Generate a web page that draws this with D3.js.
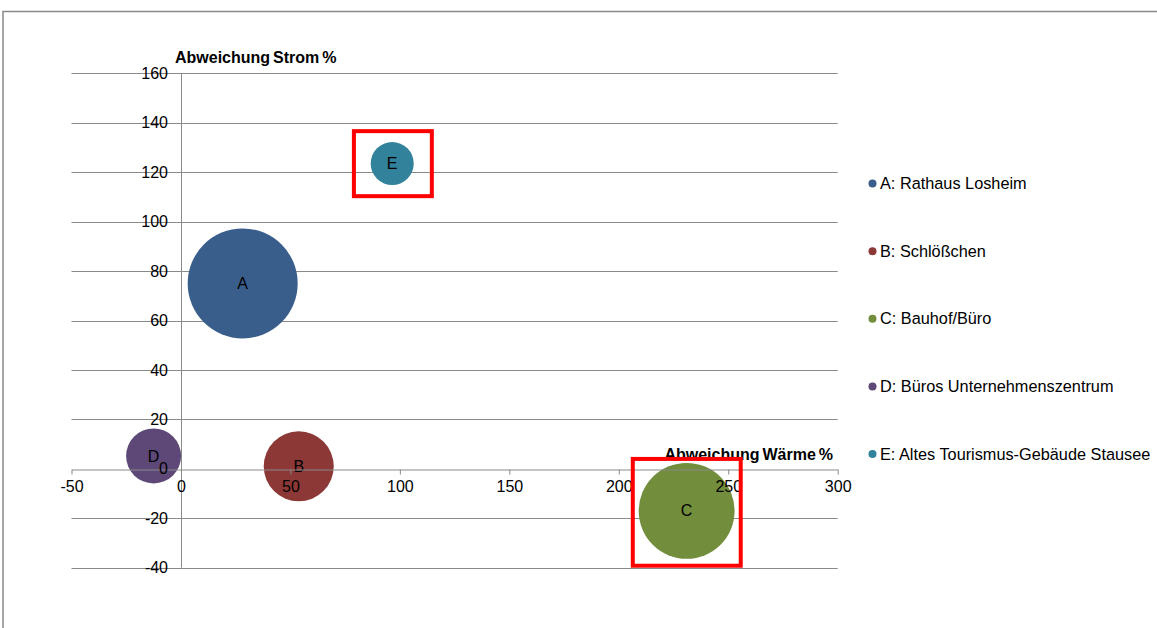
<!DOCTYPE html>
<html>
<head>
<meta charset="utf-8">
<script src="https://cdn.jsdelivr.net/npm/d3@7"></script>
<style>
  html, body { margin: 0; padding: 0; background: #fff; }
  svg { display: block; font-family: "Liberation Sans", Arial, sans-serif; }
</style>
</head>
<body>
<svg id="chart" width="1157" height="628"></svg>
<script>
// Buildings: deviation of heat (x) and electricity (y) in percent, bubble size = consumption weight
const labels = ["A", "B", "C", "D", "E"];
const names = ["A: Rathaus Losheim", "B: Schlößchen", "C: Bauhof/Büro", "D: Büros Unternehmenszentrum", "E: Altes Tourismus-Gebäude Stausee"];
const waerme = [28.2, 53.8, 231, -12.5, 96.5];
const strom = [75, 1, -17, 5.2, 123.5];
const groesse = [100, 40.5, 76, 25, 15.3];
const colors = ["#3A5E8C", "#8C3836", "#728D3B", "#5D4878", "#31829A"];
const xTicks = [-50, 0, 50, 100, 150, 200, 250, 300];
const yTicks = [-40, -20, 0, 20, 40, 60, 80, 100, 120, 140, 160];
// highlighted bubbles: [index, x0, x1, y0, y1] in data units
const highlights = [[4, 79, 114.6, 136.6, 110.3], [2, 206.4, 255.7, 4, -39.2]];

const svg = d3.select("#chart");

// outer chart frame
svg.append("rect").attr("x", 3).attr("y", 11.5).attr("width", 1200).attr("height", 700)
  .attr("fill", "none").attr("stroke", "#898989").attr("stroke-width", 1.5);

const x = d3.scaleLinear().domain([-50, 300]).range([71.5, 837.7]);
const y = d3.scaleLinear().domain([-40, 160]).range([567.7, 73.3]);
const r = d3.scaleSqrt().domain([0, 100]).range([0, 55]);

const grid = "#8a8a8a";
const fontSize = 16;

// horizontal gridlines
svg.append("g").selectAll("line").data(yTicks.filter(v => v !== 0)).join("line")
  .attr("x1", x(-50)).attr("x2", x(300))
  .attr("y1", d => Math.round(y(d)) + 0.5).attr("y2", d => Math.round(y(d)) + 0.5)
  .attr("stroke", grid).attr("stroke-width", 1);

// vertical axis line at x = 0
svg.append("line").attr("x1", Math.round(x(0)) + 0.5).attr("x2", Math.round(x(0)) + 0.5)
  .attr("y1", y(160)).attr("y2", y(-40)).attr("stroke", grid);

// horizontal axis at y = 0
const xAxis = d3.axisBottom(x).tickValues(xTicks).tickFormat(d => String(d))
  .tickSize(5).tickSizeOuter(0).tickPadding(6);
const gx = svg.append("g").attr("transform", `translate(0,${Math.round(y(0)) + 0.5})`).call(xAxis);
gx.select(".domain").attr("stroke", grid);
gx.selectAll(".tick line").attr("stroke", grid);
gx.selectAll(".tick text").attr("font-size", fontSize).attr("fill", "#000")
  .attr("font-family", "Liberation Sans, Arial, sans-serif");

// bubbles
const idx = d3.range(labels.length);
svg.append("g").selectAll("circle").data(idx).join("circle")
  .attr("cx", i => x(waerme[i])).attr("cy", i => y(strom[i])).attr("r", i => r(groesse[i]))
  .attr("fill", i => colors[i]);

// bubble labels
svg.append("g").selectAll("text").data(idx).join("text")
  .attr("x", i => x(waerme[i])).attr("y", i => y(strom[i]))
  .attr("text-anchor", "middle").attr("dy", "0.35em")
  .attr("font-size", fontSize).attr("fill", "#000").text(i => labels[i]);

// x tick labels sit on top of the bubbles
gx.raise();

// vertical axis tick labels
svg.append("g").selectAll("text").data(yTicks).join("text")
  .attr("x", 168).attr("y", d => y(d)).attr("dy", "0.35em")
  .attr("text-anchor", "end").attr("font-size", fontSize).attr("fill", "#000")
  .text(d => String(d));

// axis titles
svg.append("text").attr("x", 175).attr("y", 63).attr("font-size", 16).attr("font-weight", "bold")
  .attr("word-spacing", -1.5).text("Abweichung Strom %");
svg.append("text").attr("x", 833).attr("y", 460).attr("text-anchor", "end").attr("font-size", 16)
  .attr("font-weight", "bold").attr("word-spacing", -1.5).text("Abweichung Wärme %");

// highlight boxes
svg.append("g").selectAll("rect").data(highlights).join("rect")
  .attr("x", d => x(d[1])).attr("y", d => y(d[3]))
  .attr("width", d => x(d[2]) - x(d[1])).attr("height", d => y(d[4]) - y(d[3]))
  .attr("fill", "none").attr("stroke", "#FF0000").attr("stroke-width", 4);

// legend
const legendY = d3.scalePoint().domain(idx).range([183.5, 454]);
const lg = svg.append("g").selectAll("g").data(idx).join("g")
  .attr("transform", i => `translate(872.5,${legendY(i)})`);
lg.append("circle").attr("r", 4).attr("fill", i => colors[i]);
lg.append("text").attr("x", 7.5).attr("dy", "0.35em").attr("font-size", 16.3).attr("fill", "#000")
  .text(i => names[i]);
</script>
</body>
</html>
